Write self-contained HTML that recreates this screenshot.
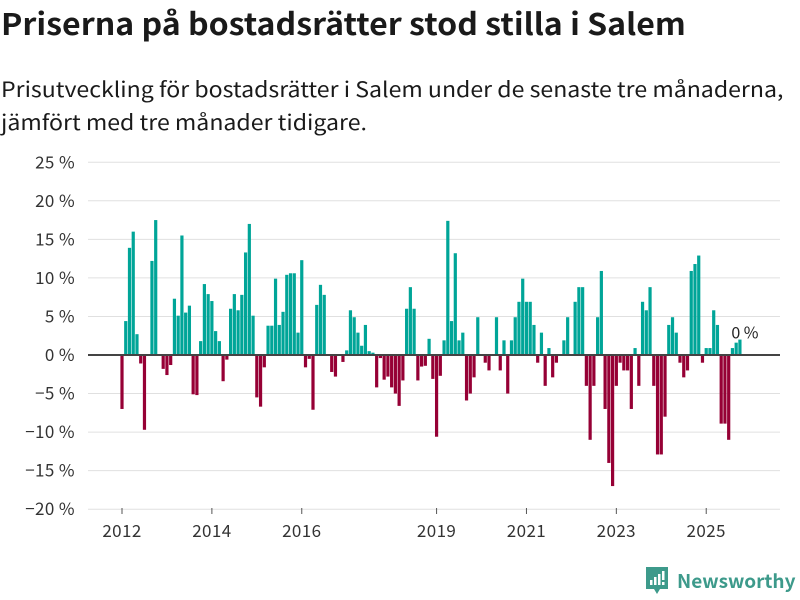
<!DOCTYPE html>
<html><head><meta charset="utf-8"><style>
body{margin:0;width:800px;height:600px;background:#fff;overflow:hidden;font-family:"Noto Sans CJK JP","DejaVu Sans",sans-serif;color:#1a1a1a}
h1{position:absolute;left:1px;top:2px;margin:0;font-size:30px;line-height:40px;font-weight:bold;white-space:nowrap;transform:scaleX(1.07);transform-origin:0 0}
p{position:absolute;left:1px;top:73px;margin:0;font-size:21px;line-height:33px;white-space:nowrap;transform:scaleX(1.1);transform-origin:0 0}
svg{position:absolute;left:0;top:0}
text{font-family:"Noto Sans CJK JP","DejaVu Sans",sans-serif}
</style></head><body>
<h1>Priserna på bostadsrätter stod stilla i Salem</h1>
<p>Prisutveckling för bostadsrätter i Salem under de senaste tre månaderna,<br>jämfört med tre månader tidigare.</p>
<svg id="chart" width="800" height="600"></svg>
<script>
const values=[-7.0,4.4,13.9,16.0,2.7,-1.1,-9.7,0,12.2,17.5,0,-1.8,-2.6,-1.3,7.3,5.1,15.5,5.5,6.4,-5.1,-5.2,1.8,9.2,7.9,
7.0,3.1,1.8,-3.4,-0.6,6.0,7.9,5.8,7.8,13.3,17.0,5.1,-5.5,-6.7,-1.6,3.8,3.8,9.9,3.9,5.6,10.4,10.6,10.6,2.9,
12.3,-1.6,-0.5,-7.1,6.5,9.1,7.8,0,-2.2,-2.8,0,-0.9,0.6,5.8,4.9,2.9,1.2,3.9,0.5,0.3,-4.2,-0.4,-3.2,-2.8,
-4.2,-5.0,-6.6,-3.3,6.0,8.8,6.0,-3.3,-1.5,-1.4,2.1,-3.1,-10.6,-2.7,1.9,17.4,4.4,13.2,1.9,2.9,-5.9,-5.0,-2.9,4.9,
0,-1.0,-2.0,0,4.9,-2.0,1.9,-5.0,1.9,4.9,6.9,9.9,6.9,6.9,3.9,-1.0,2.9,-4.0,0.9,-2.9,-1.0,0,1.9,4.9,
0,6.9,8.8,8.8,-4.0,-11.0,-4.0,4.9,10.9,-7.0,-14.0,-17.0,-4.0,-1.0,-2.0,-2.0,-7.0,0.9,-4.0,6.9,5.8,8.8,-4.0,-12.9,
-12.9,-8.0,3.9,4.9,2.9,-1.0,-2.9,-2.0,10.9,11.8,12.9,-1.0,0.9,0.9,5.8,3.9,-8.9,-8.9,-11.0,0.9,1.6,2.0];
const yTicks=[25,20,15,10,5,0,-5,-10,-15,-20];
const yearLabels=[2012,2014,2016,2019,2021,2023,2025];
const startYear=2012;
const lastLabel="0 %";

const svg=document.getElementById('chart');
const NS='http://www.w3.org/2000/svg';
const x=i=>122+i*3.745;
const y=v=>355-v*7.71;
function mk(t,a){const e=document.createElementNS(NS,t);for(const k in a)e.setAttribute(k,a[k]);svg.appendChild(e);return e;}
yTicks.forEach(v=>{
  const g=mk('line',{x1:88,x2:780,y1:y(v),y2:y(v),stroke:'#e0e0e0','stroke-width':1});
  
  
  const t=mk('text',{x:75,y:y(v)+6,'text-anchor':'end','font-size':17,fill:'#333','letter-spacing':0.4});
  t.textContent=(v<0?'\u2212'+(-v):v)+' %';
  
  
});
values.forEach((v,i)=>{
  if(v===0)return;
  const r=mk('rect',{x:x(i)-1.6,width:3.2,y:Math.min(y(v),y(0)),height:Math.abs(y(v)-y(0)),fill:v>0?'#00a598':'#960035'});
  
  
});
const z=mk('line',{x1:88,x2:780,y1:y(0),y2:y(0),stroke:'#444','stroke-width':2});


yearLabels.forEach(yr=>{
  const xi=x((yr-startYear)*12);
  const tk=mk('line',{x1:xi,x2:xi,y1:508,y2:514,stroke:'#555','stroke-width':1});
  
  
  const t=mk('text',{x:xi,y:537,'text-anchor':'middle','font-size':17,fill:'#333','letter-spacing':0.4});
  t.textContent=yr;
  
  
});
const last=values.length-1;
const lbl=mk('text',{x:x(last)+5,y:y(values[last])-1,'text-anchor':'middle','font-size':16,fill:'#222'});
lbl.textContent=lastLabel;


</script>
<div style="position:absolute;left:645px;top:566px;display:flex;align-items:center;color:#3d9a8b;font-weight:bold;font-size:19px;line-height:30px">
<svg width="24" height="30" viewBox="0 0 24 30" style="position:static;margin-right:8px"><path d="M1 1h22v22h-8l-3 5-3-5H1z" fill="#3d9a8b"/><rect x="5" y="14" width="2.5" height="5" fill="#fff"/><rect x="9" y="11" width="2.5" height="8" fill="#fff"/><rect x="13" y="8" width="2.5" height="11" fill="#fff"/><rect x="17" y="5" width="2.5" height="9" fill="#fff"/><rect x="17" y="16" width="2.5" height="3" fill="#fff"/></svg>Newsworthy</div>
</body></html>
